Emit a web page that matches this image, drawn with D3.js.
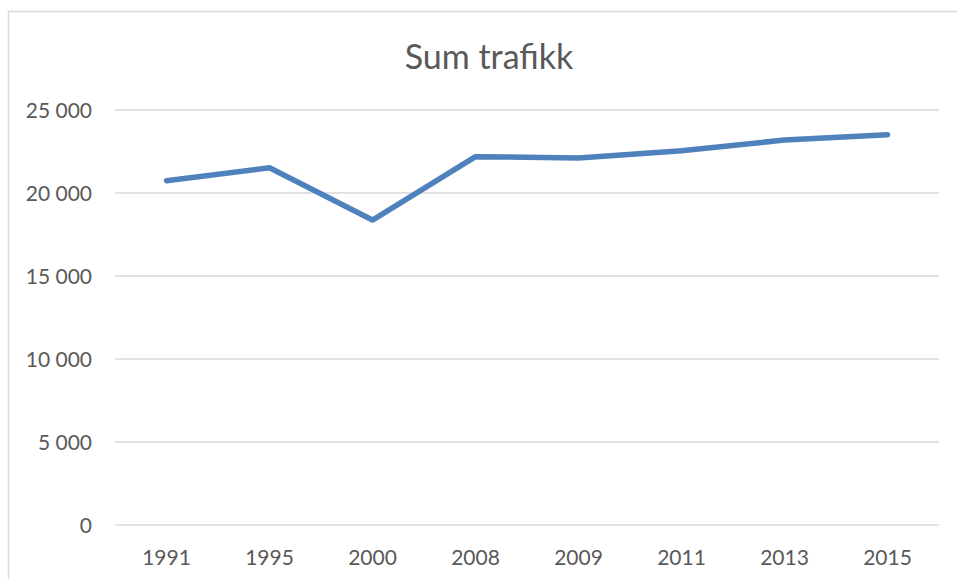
<!DOCTYPE html>
<html>
<head>
<meta charset="utf-8">
<script src="https://cdn.jsdelivr.net/npm/d3@7"></script>
<style>
  html, body { margin: 0; padding: 0; background: #fff; }
  svg { display: block; }
  text { font-family: Lato, "Open Sans", sans-serif; fill: #595959; }
</style>
</head>
<body>
<svg id="chart" width="957" height="579"></svg>
<script>
const title = "Sum trafikk";
const years = ["1991", "1995", "2000", "2008", "2009", "2011", "2013", "2015"];
const values = [20740, 21520, 18370, 22190, 22110, 22550, 23190, 23510];
const yTicks = [0, 5000, 10000, 15000, 20000, 25000];

(function () {
const svg = d3.select("#chart");
const pLeft = 115, pRight = 939, pTop = 110, pBottom = 525;

// chart border (cropped on right/bottom)
svg.append("rect")
  .attr("x", 8.5).attr("y", 11.5)
  .attr("width", 1000).attr("height", 700)
  .attr("fill", "#fff").attr("stroke", "#d9d9d9").attr("stroke-width", 1.5);

const x = d3.scaleBand().domain(years).range([pLeft, pRight]);
const y = d3.scaleLinear().domain([0, 25000]).range([pBottom, pTop]);

const fmt = v => d3.format(",")(v).replace(/,/g, " ");

// gridlines
svg.append("g").selectAll("line").data(yTicks).join("line")
  .attr("x1", pLeft).attr("x2", pRight)
  .attr("y1", d => y(d)).attr("y2", d => y(d))
  .attr("stroke", "#d9d9d9").attr("stroke-width", 1.5);

// y axis labels
const yAxis = d3.axisLeft(y).tickValues(yTicks).tickFormat(fmt).tickSize(0).tickPadding(0);
const yg = svg.append("g").attr("transform", `translate(92,0)`).call(yAxis);
yg.select(".domain").remove();
yg.selectAll("text").attr("font-size", 21).attr("fill", "#595959")
  .attr("font-family", "Lato, 'Open Sans', sans-serif").attr("dy", "0.36em");

// x axis labels
const xAxis = d3.axisBottom(x).tickSize(0).tickPadding(0);
const xg = svg.append("g").attr("transform", `translate(0,${pBottom + 32})`).call(xAxis);
xg.select(".domain").remove();
xg.selectAll("text").attr("font-size", 21).attr("fill", "#595959")
  .attr("font-family", "Lato, 'Open Sans', sans-serif").attr("dy", "0.36em");

// line
const line = d3.line()
  .x((d, i) => x(years[i]) + x.bandwidth() / 2)
  .y(d => y(d));
svg.append("path").datum(values)
  .attr("d", line)
  .attr("fill", "none")
  .attr("stroke", "#4f81bd")
  .attr("stroke-width", 5.5)
  .attr("stroke-linecap", "round")
  .attr("stroke-linejoin", "round");

// title
svg.append("text")
  .attr("x", 489).attr("y", 57)
  .attr("text-anchor", "middle").attr("dy", "0.36em")
  .attr("font-size", 34)
  .text(title);
})();
</script>
</body>
</html>
